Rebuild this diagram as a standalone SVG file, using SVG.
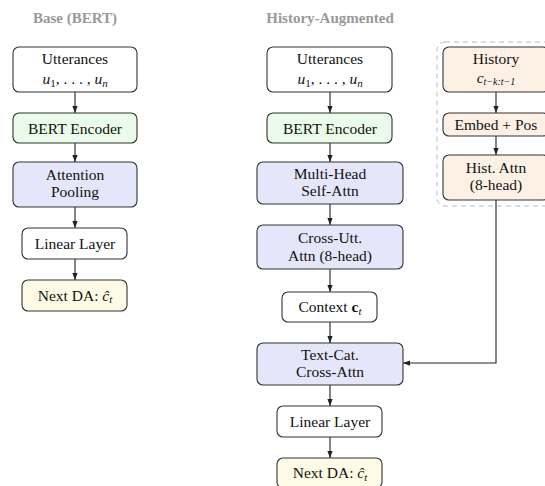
<svg xmlns="http://www.w3.org/2000/svg" width="545" height="486" viewBox="0 0 545 486">
<style>
text{font-family:"Liberation Serif","Times New Roman",serif;font-size:15.5px;fill:#111;text-anchor:middle}
.title{font-weight:bold;fill:#999;font-size:15px}
.box{stroke:#333;stroke-width:1.1}
.w{fill:#fff}
.g{fill:#eafbea}
.b{fill:#e6e6fa}
.y{fill:#fdfbe6}
.p{fill:#fdf1e6}
.i{font-style:italic}
.edge{stroke:#222;stroke-width:1.1;fill:none;marker-end:url(#ah)}
</style>
<defs>
<marker id="ah" viewBox="0 0 8 8" refX="8" refY="4" markerWidth="7" markerHeight="7" markerUnits="userSpaceOnUse" orient="auto">
<path d="M0,1 L8,4 L0,7 z" fill="#222"/>
</marker>
</defs>
<rect width="545" height="486" fill="#fff"/>
<text class="title" x="75" y="23">Base (BERT)</text>
<text class="title" x="330" y="23">History-Augmented</text>

<rect x="437" y="42" width="120" height="164" rx="8" fill="none" stroke="#bbb" stroke-dasharray="5,4"/>

<g id="connectors">
<line class="edge" x1="75" y1="92" x2="75" y2="113"/>
<line class="edge" x1="75" y1="143" x2="75" y2="162"/>
<line class="edge" x1="75" y1="207" x2="75" y2="228"/>
<line class="edge" x1="75" y1="259" x2="75" y2="280"/>
<line class="edge" x1="330" y1="92" x2="330" y2="113"/>
<line class="edge" x1="330" y1="143" x2="330" y2="162"/>
<line class="edge" x1="330" y1="204" x2="330" y2="225"/>
<line class="edge" x1="330" y1="269" x2="330" y2="292"/>
<line class="edge" x1="330" y1="322" x2="330" y2="343"/>
<line class="edge" x1="330" y1="385" x2="330" y2="406"/>
<line class="edge" x1="330" y1="437" x2="330" y2="458"/>
<line class="edge" x1="496" y1="92" x2="496" y2="113"/>
<line class="edge" x1="496" y1="136" x2="496" y2="155"/>
<polyline class="edge" points="496,200 496,363 403,363"/>
</g>

<g id="base_utt">
<rect class="box w" x="13" y="47" width="124" height="45" rx="6"/>
<text x="75" y="64">Utterances</text>
<text x="75" y="84" class="i">u<tspan font-size="11" font-style="normal" dy="2.5">1</tspan><tspan dy="-2.5" font-style="normal">, . . . , </tspan>u<tspan font-size="11" dy="2.5">n</tspan></text>
</g>
<g id="base_bert">
<rect class="box g" x="13" y="113" width="124" height="30" rx="6"/>
<text x="75" y="133.5">BERT Encoder</text>
</g>
<g id="base_pool">
<rect class="box b" x="13" y="162" width="124" height="45" rx="6"/>
<text x="75" y="180">Attention</text>
<text x="75" y="197">Pooling</text>
</g>
<g id="base_linear">
<rect class="box w" x="22" y="228" width="105" height="31" rx="6"/>
<text x="75" y="248.5">Linear Layer</text>
</g>
<g id="base_out">
<rect class="box y" x="22" y="280" width="105" height="31" rx="6"/>
<text x="75" y="300.5">Next DA: <tspan class="i">ĉ</tspan><tspan class="i" font-size="11" dy="2.5">t</tspan></text>
</g>

<g id="hist_utt">
<rect class="box w" x="267" y="47" width="125" height="45" rx="6"/>
<text x="330" y="64">Utterances</text>
<text x="330" y="84" class="i">u<tspan font-size="11" font-style="normal" dy="2.5">1</tspan><tspan dy="-2.5" font-style="normal">, . . . , </tspan>u<tspan font-size="11" dy="2.5">n</tspan></text>
</g>
<g id="hist_bert">
<rect class="box g" x="267" y="113" width="125" height="30" rx="6"/>
<text x="330" y="133.5">BERT Encoder</text>
</g>
<g id="mhsa">
<rect class="box b" x="257" y="162" width="146" height="42" rx="6"/>
<text x="330" y="179">Multi-Head</text>
<text x="330" y="196">Self-Attn</text>
</g>
<g id="crossutt">
<rect class="box b" x="257" y="225" width="146" height="44" rx="6"/>
<text x="330" y="243">Cross-Utt.</text>
<text x="330" y="261">Attn (8-head)</text>
</g>
<g id="context">
<rect class="box w" x="282" y="292" width="95" height="30" rx="6"/>
<text x="330" y="312">Context <tspan font-weight="bold">c</tspan><tspan class="i" font-size="11" dy="2.5">t</tspan></text>
</g>
<g id="textcat">
<rect class="box b" x="257" y="343" width="146" height="42" rx="6"/>
<text x="330" y="360">Text-Cat.</text>
<text x="330" y="377">Cross-Attn</text>
</g>
<g id="hist_linear">
<rect class="box w" x="277" y="406" width="105" height="31" rx="6"/>
<text x="330" y="426.5">Linear Layer</text>
</g>
<g id="hist_out">
<rect class="box y" x="277" y="458" width="105" height="30" rx="6"/>
<text x="330" y="478">Next DA: <tspan class="i">ĉ</tspan><tspan class="i" font-size="11" dy="2.5">t</tspan></text>
</g>

<g id="history">
<rect class="box p" x="443" y="47" width="106" height="45" rx="6"/>
<text x="496" y="64">History</text>
<text x="496" y="83" class="i" font-size="13">c<tspan font-size="10" dy="2">t−k:t−1</tspan></text>
</g>
<g id="embed">
<rect class="box p" x="443" y="113" width="106" height="23" rx="6"/>
<text x="496" y="130">Embed + Pos</text>
</g>
<g id="histattn">
<rect class="box p" x="443" y="155" width="106" height="45" rx="6"/>
<text x="496" y="173">Hist.  Attn</text>
<text x="496" y="190">(8-head)</text>
</g>
</svg>
